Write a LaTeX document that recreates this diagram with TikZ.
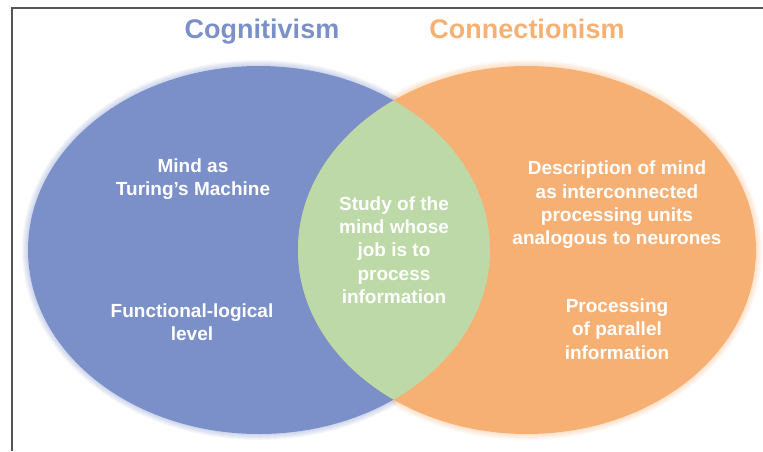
\documentclass[tikz,border=0pt]{standalone}
\usepackage{fontspec}
\setmainfont{Liberation Sans}
\usepackage{tikz}
\usetikzlibrary{positioning}
\usepackage{xcolor}
\definecolor{cogblue}{HTML}{7B90C8}
\definecolor{conorange}{HTML}{F6B074}
\definecolor{commongreen}{HTML}{BCD9A7}
\definecolor{framegray}{HTML}{555555}
\tikzset{
    title/.style = {anchor=base, font=\fontsize{27}{30}\selectfont\bfseries},
    body/.style = {text=white, align=center, font=\fontsize{19}{23.3}\selectfont\bfseries}
}

\begin{document}
\begin{tikzpicture}[x=1pt, y=-1pt]
    \useasboundingbox (0,0) rectangle (763,451);
    % Cornice
    \draw[framegray, line width=1.3pt] (12,451) -- (12,8) -- (763,8);

    % Centri delle ellissi
    \coordinate (CogCenter) at (259,250);
    \coordinate (ConCenter) at (527,250);

    % Bordi sfumati
    \foreach \r in {1,...,6}{
        \fill[cogblue, opacity=0.07] (CogCenter) ellipse [x radius=231+\r, y radius=184+\r];
        \fill[conorange, opacity=0.07] (ConCenter) ellipse [x radius=229+\r, y radius=184+\r];
    }
    % Ellissi
    \fill[cogblue] (CogCenter) ellipse [x radius=231, y radius=184];
    \fill[conorange] (ConCenter) ellipse [x radius=229, y radius=184];
    \begin{scope}
        \clip (CogCenter) ellipse [x radius=231, y radius=184];
        \fill[commongreen] (ConCenter) ellipse [x radius=229, y radius=184];
    \end{scope}

    % Titoli
    \node[title, text=cogblue] (cogtitle) at (262,38) {Cognitivism};
    \node[title, text=conorange] (contitle) at (527,38) {Connectionism};

    % Testi
    \node[body] (turing) at (193,179) {Mind as\\Turing’s Machine};
    \node[body] (functional) at (192,322) {Functional-logical\\level};
    \node[body] (study) at (394,250) {Study of the\\mind whose\\job is to\\process\\information};
    \node[body] (description) at (617,205) {Description of mind\\as interconnected\\processing units\\analogous to neurones};
    \node[body] (parallel) at (617,329) {Processing\\of parallel\\information};
\end{tikzpicture}
\end{document}
